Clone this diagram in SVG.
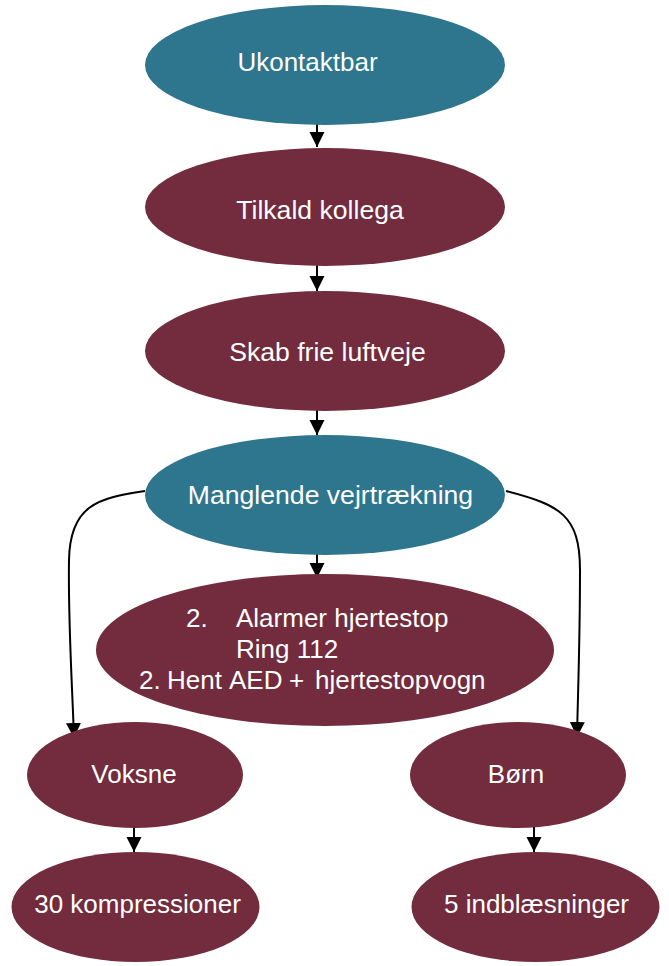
<svg xmlns="http://www.w3.org/2000/svg" width="669" height="966" viewBox="0 0 669 966">
<style>
.teal{fill:#2E758E}
.mar{fill:#722C3D}
.t{font-family:"Liberation Sans",Arial,sans-serif;font-size:26px;fill:#ffffff}
.b{font-size:26.6px}
.c{text-anchor:middle}
.e{fill:none;stroke:#000;stroke-width:2}
</style>
<defs>
<marker id="ah" markerUnits="userSpaceOnUse" markerWidth="16" markerHeight="16" refX="15" refY="7.5" orient="auto" viewBox="0 0 16 16">
<path d="M0,0 L15,7.5 L0,15 z" fill="#000"/>
</marker>
</defs>
<g id="connectors">
<path class="e" d="M317,121 L317,147" marker-end="url(#ah)"/>
<path class="e" d="M317,265 L317,291" marker-end="url(#ah)"/>
<path class="e" d="M317,409 L317,435" marker-end="url(#ah)"/>
<path class="e" d="M317,553 L317,578" marker-end="url(#ah)"/>
<path class="e" d="M145,491 C98,498 70,505 69,560 C68,620 72,680 74,738" marker-end="url(#ah)"/>
<path class="e" d="M506,491 C560,505 580,515 580,570 C580,640 578,690 577,737" marker-end="url(#ah)"/>
<path class="e" d="M134,827 L134,852" marker-end="url(#ah)"/>
<path class="e" d="M534,827 L534,852" marker-end="url(#ah)"/>
</g>
<g id="n1">
<ellipse class="teal" cx="325" cy="65" rx="180" ry="60"/>
<text class="t c" x="307.5" y="71">Ukontaktbar</text>
</g>
<g id="n2">
<ellipse class="mar" cx="325" cy="207" rx="180" ry="59"/>
<text class="t c b" x="320" y="219">Tilkald kollega</text>
</g>
<g id="n3">
<ellipse class="mar" cx="325" cy="351" rx="180" ry="60"/>
<text class="t c b" x="327.5" y="361">Skab frie luftveje</text>
</g>
<g id="n4">
<ellipse class="teal" cx="325" cy="495" rx="180" ry="60"/>
<text class="t c b" x="330.5" y="504">Manglende vejrtrækning</text>
</g>
<g id="n5">
<ellipse class="mar" cx="325" cy="650" rx="229" ry="76"/>
<text class="t"><tspan x="186" y="627">2.</tspan><tspan x="236" y="627">Alarmer hjertestop</tspan><tspan x="236" y="658">Ring 112</tspan><tspan x="139" y="689">2.</tspan><tspan x="167" y="689">Hent</tspan><tspan x="229" y="689">AED</tspan><tspan x="289" y="689">+</tspan><tspan x="315" y="689">hjertestopvogn</tspan></text>
</g>
<g id="n6">
<ellipse class="mar" cx="135" cy="775" rx="108" ry="53"/>
<text class="t c" x="134" y="783">Voksne</text>
</g>
<g id="n7">
<ellipse class="mar" cx="518" cy="775" rx="108" ry="53"/>
<text class="t c" x="516" y="783">Børn</text>
</g>
<g id="n8">
<ellipse class="mar" cx="135.5" cy="907" rx="124" ry="55"/>
<text class="t c" x="137.5" y="913">30 kompressioner</text>
</g>
<g id="n9">
<ellipse class="mar" cx="535.5" cy="907" rx="124" ry="55"/>
<text class="t c" x="536.5" y="913">5 indblæsninger</text>
</g>
</svg>
